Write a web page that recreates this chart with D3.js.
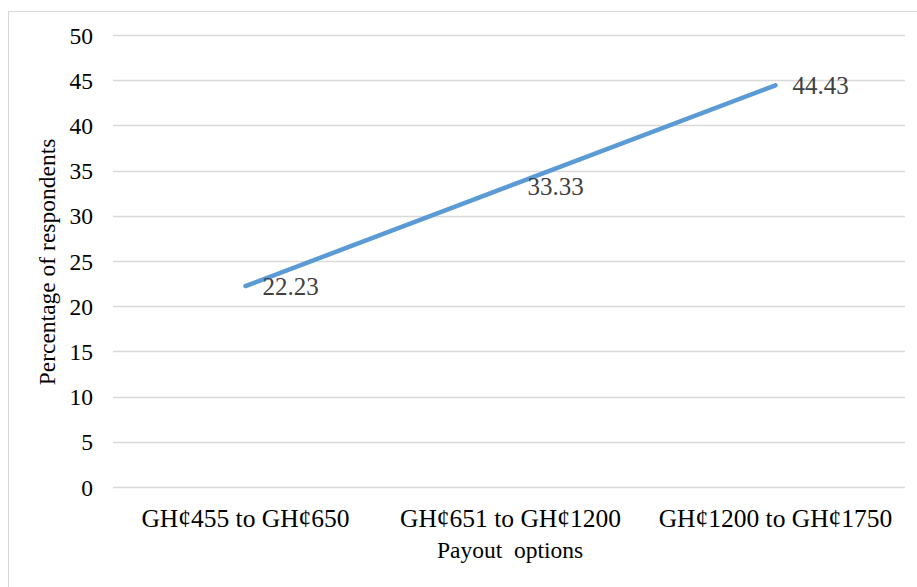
<!DOCTYPE html>
<html>
<head>
<meta charset="utf-8">
<script src="https://cdn.jsdelivr.net/npm/d3@7"></script>
<style>
  html, body { margin: 0; padding: 0; background: #fff; }
  svg { display: block; }
  svg text { font-family: "Liberation Serif", "Times New Roman", serif !important; }
</style>
</head>
<body>
<svg id="chart" width="917" height="587"></svg>
<script>
// Payout option categories and share of respondents (%)
const categories = ["GH\u00a2455 to GH\u00a2650", "GH\u00a2651 to GH\u00a21200", "GH\u00a21200 to GH\u00a21750"];
const percentages = [22.23, 33.33, 44.43];
const yTicks = [0, 5, 10, 15, 20, 25, 30, 35, 40, 45, 50];

const svg = d3.select("#chart");
const W = 917, H = 587;
const plot = { left: 113, right: 908, top: 35, bottom: 487 };
const serif = "'Liberation Serif', 'Times New Roman', serif";

// Outer chart frame
svg.append("rect")
  .attr("x", 8.5).attr("y", 11.5)
  .attr("width", W + 10).attr("height", H + 10)
  .attr("fill", "none").attr("stroke", "#d9d9d9").attr("stroke-width", 1);

const x = d3.scaleBand().domain(categories).range([plot.left, plot.right]);
const y = d3.scaleLinear().domain([0, 50]).range([plot.bottom, plot.top]);

// Horizontal gridlines
svg.append("g")
  .selectAll("line")
  .data(yTicks)
  .join("line")
  .attr("x1", plot.left).attr("x2", plot.right - 3)
  .attr("y1", d => Math.round(y(d)) + 0.5).attr("y2", d => Math.round(y(d)) + 0.5)
  .attr("stroke", "#d9d9d9").attr("stroke-width", 1.5);

// Y axis labels
const yAxis = d3.axisLeft(y).tickValues(yTicks).tickSize(0).tickPadding(0);
const yg = svg.append("g")
  .attr("transform", `translate(${plot.left - 20},0)`)
  .call(yAxis)
  .attr("font-family", serif).attr("font-size", 23.5);
yg.select(".domain").remove();
yg.selectAll("text")
  .style("font-family", serif)
  .attr("fill", "#000").attr("dy", "0.34em");

// X axis labels
const xAxis = d3.axisBottom(x).tickSize(0).tickPadding(0);
const xg = svg.append("g")
  .attr("transform", `translate(0,${plot.bottom + 40})`)
  .call(xAxis)
  .attr("font-family", serif).attr("font-size", 25.5);
xg.select(".domain").remove();
xg.selectAll("text")
  .style("font-family", serif)
  .attr("fill", "#000").attr("dy", "0");

// Series line
const line = d3.line()
  .x((d, i) => x(categories[i]) + x.bandwidth() / 2)
  .y(d => y(d));

svg.append("path")
  .datum(percentages)
  .attr("d", line)
  .attr("fill", "none")
  .attr("stroke", "#5b9bd5")
  .attr("stroke-width", 4.5)
  .attr("stroke-linecap", "round")
  .attr("stroke-linejoin", "round");

// Data labels
svg.append("g")
  .selectAll("text")
  .data(percentages)
  .join("text")
  .attr("x", (d, i) => x(categories[i]) + x.bandwidth() / 2 + 17)
  .attr("y", d => y(d) + 9)
  .style("font-family", serif)
  .attr("font-size", 25)
  .attr("fill", "#404040")
  .text(d => d.toFixed(2));

// Axis titles
svg.append("text")
  .attr("transform", `translate(55,262) rotate(-90)`)
  .attr("text-anchor", "middle")
  .style("font-family", serif)
  .attr("font-size", 23.5).attr("fill", "#000")
  .text("Percentage of respondents");

svg.append("text")
  .attr("x", 510).attr("y", 558)
  .attr("text-anchor", "middle")
  .style("font-family", serif)
  .attr("font-size", 23.5).attr("fill", "#000")
  .style("white-space", "pre")
  .text("Payout  options");
</script>
</body>
</html>
